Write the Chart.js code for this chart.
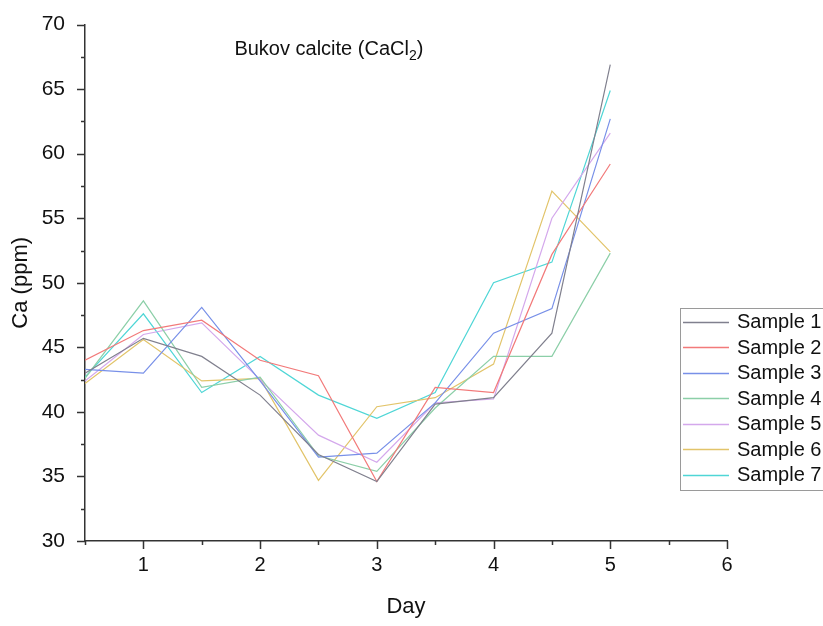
<!DOCTYPE html>
<html lang="en">
<head>
    <meta charset="UTF-8">
    <title>Bukov calcite (CaCl2)</title>
    <style>
        html, body { margin: 0; padding: 0; background: #fff; }
        #wrap { width: 823px; height: 626px; position: relative; }
    </style>
    <script src="https://cdn.jsdelivr.net/npm/chart.js"></script>
</head>
<body>
<div id="wrap"><canvas id="caChart"></canvas></div>
<script>
    // days sampled
    const days = [0.5, 1, 1.5, 2, 2.5, 3, 3.5, 4, 4.5, 5];

    // Ca (ppm) per sample
    const sample1 = [43.0, 45.7, 44.3, 41.3, 36.7, 34.6, 40.6, 41.1, 46.1, 66.9];
    const sample2 = [44.0, 46.3, 47.1, 44.0, 42.8, 34.6, 41.9, 41.5, 52.2, 59.2];
    const sample3 = [43.3, 43.0, 48.1, 42.4, 36.5, 36.8, 40.7, 46.1, 48.0, 62.7];
    const sample4 = [42.6, 48.6, 41.9, 42.7, 36.6, 35.4, 40.3, 44.3, 44.3, 52.3];
    const sample5 = [42.4, 46.0, 46.9, 42.5, 38.2, 36.1, 40.7, 41.0, 55.0, 61.6];
    const sample6 = [42.2, 45.6, 42.4, 42.6, 34.7, 40.4, 41.1, 43.7, 57.1, 52.4];
    const sample7 = [42.7, 47.6, 41.5, 44.3, 41.3, 39.5, 41.5, 50.0, 51.6, 64.9];

    const sampleNames = ['Sample 1', 'Sample 2', 'Sample 3', 'Sample 4', 'Sample 5', 'Sample 6', 'Sample 7'];
    const sampleValues = [sample1, sample2, sample3, sample4, sample5, sample6, sample7];
    const sampleColors = ['#80808e', '#f27a7a', '#7890e8', '#8ccfa8', '#d4a8ec', '#e2c46a', '#4fd6d6'];

    const FONT = '"Liberation Sans", Arial, sans-serif';
    const AXIS = '#333';

    // major/minor tick marks drawn outside the axes
    const tickMarks = {
        id: 'tickMarks',
        afterDraw(chart) {
            const ctx = chart.ctx;
            const a = chart.chartArea;
            const xs = chart.scales.x, ys = chart.scales.y;
            ctx.save();
            ctx.strokeStyle = AXIS;
            ctx.lineWidth = 1.5;
            ctx.beginPath();
            xs.ticks.forEach(t => {
                const px = Math.round(xs.getPixelForValue(t.value)) + 0.5;
                const len = Number.isInteger(t.value) ? 8 : 4;
                ctx.moveTo(px, a.bottom);
                ctx.lineTo(px, a.bottom + len);
            });
            ys.ticks.forEach(t => {
                const py = Math.round(ys.getPixelForValue(t.value)) + 0.5;
                const len = t.value % 5 === 0 ? 8 : 4;
                ctx.moveTo(a.left - len, py);
                ctx.lineTo(a.left, py);
            });
            ctx.stroke();
            ctx.restore();
        }
    };

    // in-plot title with subscript
    const plotTitle = {
        id: 'plotTitle',
        afterDraw(chart) {
            const ctx = chart.ctx;
            const x0 = chart.scales.x.getPixelForValue(1.78);
            const y0 = chart.scales.y.getPixelForValue(68.0);
            ctx.save();
            ctx.fillStyle = '#111';
            ctx.textBaseline = 'alphabetic';
            ctx.font = '20px ' + FONT;
            const main = 'Bukov calcite (CaCl';
            ctx.fillText(main, x0, y0 + 5);
            let w = ctx.measureText(main).width;
            ctx.font = '14px ' + FONT;
            ctx.fillText('2', x0 + w, y0 + 10);
            w += ctx.measureText('2').width;
            ctx.font = '20px ' + FONT;
            ctx.fillText(')', x0 + w, y0 + 5);
            ctx.restore();
        }
    };

    // boxed legend at the right, partly cut by the edge like the original
    const sideLegend = {
        id: 'sideLegend',
        afterDraw(chart) {
            const ctx = chart.ctx;
            ctx.save();
            ctx.fillStyle = '#fff';
            ctx.fillRect(680, 308, 160, 182);
            ctx.strokeStyle = '#9a9a9a';
            ctx.lineWidth = 1;
            ctx.strokeRect(680.5, 308.5, 160, 182);
            ctx.font = '20px ' + FONT;
            ctx.textBaseline = 'middle';
            sampleNames.forEach((name, i) => {
                const yy = 321.5 + i * 25.5;
                ctx.strokeStyle = sampleColors[i];
                ctx.lineWidth = 1.3;
                ctx.beginPath();
                ctx.moveTo(683, Math.round(yy) + 0.5);
                ctx.lineTo(729, Math.round(yy) + 0.5);
                ctx.stroke();
                ctx.fillStyle = '#111';
                ctx.fillText(name, 737, yy + 1);
            });
            ctx.restore();
        }
    };

    const datasets = sampleValues.map((vals, i) => ({
        label: sampleNames[i],
        data: days.map((d, j) => ({ x: d, y: vals[j] })),
        borderColor: sampleColors[i],
        borderWidth: 1.2,
        pointRadius: 0,
        fill: false,
        tension: 0
    }));

    new Chart(document.getElementById('caChart'), {
        type: 'line',
        data: { datasets: datasets },
        options: {
            responsive: true,
            maintainAspectRatio: false,
            animation: false,
            layout: { padding: { left: 0, right: 96, top: 22, bottom: 0 } },
            plugins: {
                legend: { display: false },
                tooltip: { enabled: false }
            },
            scales: {
                x: {
                    type: 'linear',
                    min: 0.5,
                    max: 6,
                    afterFit(scale) { scale.height = 85; },
                    grid: { display: false },
                    border: { display: true, color: AXIS, width: 1.5 },
                    ticks: {
                        stepSize: 0.5,
                        autoSkip: false,
                        maxRotation: 0,
                        padding: 4,
                        color: '#111',
                        font: { family: FONT, size: 20 },
                        callback: v => (Number.isInteger(v) && v >= 1) ? String(v) : ''
                    },
                    title: {
                        display: true,
                        text: 'Day',
                        color: '#111',
                        font: { family: FONT, size: 22 },
                        padding: { top: 0, bottom: 6 }
                    }
                },
                y: {
                    min: 30,
                    max: 70,
                    afterFit(scale) { scale.width = 85; },
                    grid: { display: false },
                    border: { display: true, color: AXIS, width: 1.5 },
                    ticks: {
                        stepSize: 2.5,
                        autoSkip: false,
                        padding: 12,
                        color: '#111',
                        font: { family: FONT, size: 21 },
                        callback: v => v % 5 === 0 ? String(v) : ''
                    },
                    title: {
                        display: true,
                        text: 'Ca (ppm)',
                        color: '#111',
                        font: { family: FONT, size: 22 },
                        padding: { top: 8, bottom: 0 }
                    }
                }
            }
        },
        plugins: [tickMarks, plotTitle, sideLegend]
    });
</script>
</body>
</html>
